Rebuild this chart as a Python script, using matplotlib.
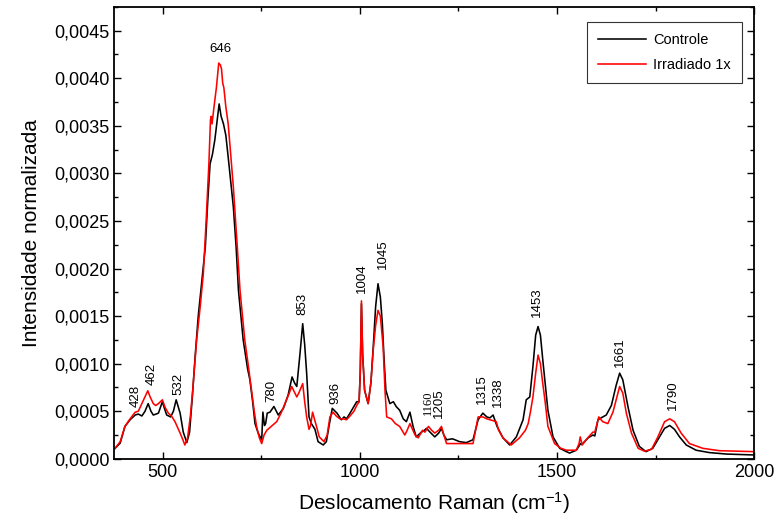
import numpy as np
import matplotlib
matplotlib.use("Agg")
import matplotlib.pyplot as plt
from matplotlib.ticker import FuncFormatter, MultipleLocator

plt.rcParams['font.family'] = ['Liberation Sans', 'DejaVu Sans']
plt.rcParams['mathtext.fontset'] = 'custom'
plt.rcParams['mathtext.rm'] = 'Liberation Sans'
plt.rcParams['mathtext.it'] = 'Liberation Sans:italic'

# Controle (black)
x_ctrl = [379, 392, 404, 417, 430, 438, 447, 455, 463, 470, 476, 483, 489, 499, 505,
          510, 520, 527, 534, 544, 552, 561, 568, 575, 582, 590, 600, 608, 614, 620,
          626, 632, 637, 643, 648, 654, 660, 666, 679, 686, 692, 704, 715, 721, 728,
          734, 742, 751, 754, 758, 761, 765, 772, 782, 793, 806, 818, 828, 834, 840,
          848, 855, 860, 865, 871, 877, 886, 894, 907, 915, 922, 930, 942, 953, 960,
          966, 975, 985, 992, 998, 1001, 1004, 1007, 1012, 1021, 1028, 1034, 1040, 1046, 1052,
          1057, 1062, 1066, 1076, 1085, 1092, 1101, 1110, 1118, 1127, 1135, 1143, 1156, 1164, 1169,
          1178, 1190, 1200, 1207, 1213, 1220, 1235, 1253, 1270, 1287, 1300, 1312, 1322, 1330, 1338,
          1348, 1363, 1380, 1397, 1414, 1422, 1431, 1439, 1446, 1452, 1458, 1464, 1470, 1477, 1490,
          1507, 1524, 1532, 1549, 1557, 1559, 1563, 1579, 1591, 1596, 1604, 1612, 1625, 1638, 1650,
          1659, 1667, 1680, 1693, 1709, 1726, 1743, 1760, 1773, 1786, 1798, 1811, 1828, 1853, 1887,
          1929, 1965, 2000]
y_ctrl = [0.00011, 0.000165, 0.00034, 0.00041, 0.00046, 0.00047, 0.00045, 0.0005, 0.00058, 0.0005,
          0.00046, 0.00047, 0.00048, 0.0006, 0.00052, 0.00046, 0.00044, 0.0005, 0.00062, 0.00048,
          0.00028, 0.00017, 0.00028, 0.00065, 0.00107, 0.0015, 0.0019, 0.00223, 0.0027, 0.0031,
          0.0032, 0.00335, 0.00352, 0.00373, 0.0036, 0.00352, 0.0034, 0.00317, 0.00265, 0.00223,
          0.00177, 0.00125, 0.00095, 0.00083, 0.0006, 0.00037, 0.00027, 0.0002, 0.00049, 0.00035,
          0.00037, 0.00048, 0.00049, 0.00055, 0.00046, 0.00053, 0.00067, 0.00086, 0.0008, 0.00076,
          0.0011, 0.00142, 0.0012, 0.0009, 0.00044, 0.00037, 0.00031, 0.00018, 0.000145, 0.00018,
          0.00035, 0.00053, 0.00048, 0.00041, 0.00044, 0.00042, 0.00048, 0.00055, 0.0006, 0.0006,
          0.0009, 0.00163, 0.0011, 0.00072, 0.00058, 0.0008, 0.00118, 0.0016, 0.00184, 0.0017,
          0.00142, 0.001, 0.00072, 0.00058, 0.0006, 0.00055, 0.00051, 0.00042, 0.00039, 0.00049,
          0.00034, 0.00023, 0.00028, 0.0003, 0.00032, 0.00028, 0.00023, 0.00027, 0.00032, 0.00025,
          0.0002, 0.00021, 0.00018, 0.00017, 0.0002, 0.00041, 0.00048, 0.00044, 0.00043, 0.00046,
          0.00034, 0.00022, 0.000145, 0.00023, 0.00041, 0.00062, 0.00065, 0.00097, 0.0013, 0.00139,
          0.0013, 0.00104, 0.0008, 0.00051, 0.00023, 0.00011, 0.000075, 0.00006, 0.00009, 0.00014,
          0.00016, 0.00015, 0.00022, 0.00025, 0.00024, 0.00041, 0.00043, 0.00046, 0.00056, 0.00077,
          0.0009, 0.00083, 0.00055, 0.0003, 0.00013, 0.000075, 0.00011, 0.00023, 0.00032, 0.00035,
          0.00031, 0.00023, 0.000145, 0.00009, 0.000065, 0.00005, 0.000045, 0.00004]

# Irradiado 1x (red)
x_irr = [379, 392, 404, 417, 430, 438, 447, 455, 462, 468, 476, 482, 489, 499, 506,
         514, 522, 531, 544, 551, 556, 563, 570, 576, 586, 595, 603, 610, 617, 621,
         623, 625, 630, 636, 642, 646, 649, 652, 655, 660, 666, 679, 689, 696, 708,
         717, 725, 732, 738, 745, 751, 757, 764, 775, 789, 800, 810, 820, 827, 834,
         840, 846, 855, 860, 865, 871, 875, 880, 888, 897, 909, 917, 924, 932, 940,
         949, 958, 966, 975, 985, 992, 998, 1001, 1004, 1007, 1012, 1021, 1028, 1034, 1040,
         1046, 1052, 1059, 1064, 1068, 1080, 1090, 1101, 1114, 1120, 1127, 1140, 1148, 1159, 1165,
         1174, 1182, 1190, 1200, 1207, 1213, 1220, 1240, 1260, 1287, 1300, 1312, 1322, 1330, 1346,
         1352, 1363, 1384, 1405, 1420, 1427, 1433, 1439, 1446, 1452, 1458, 1464, 1470, 1477, 1494,
         1510, 1524, 1532, 1549, 1556, 1559, 1564, 1578, 1591, 1596, 1606, 1616, 1629, 1642, 1652,
         1659, 1667, 1676, 1689, 1706, 1722, 1740, 1756, 1773, 1786, 1798, 1815, 1836, 1870, 1912,
         1955, 2000]
y_irr = [0.00011, 0.00018, 0.00034, 0.00042, 0.00049, 0.0005, 0.00058, 0.00065, 0.000715, 0.00065,
         0.00058, 0.00056, 0.00058, 0.00062, 0.00054, 0.00048, 0.00045, 0.00039, 0.00027, 0.0002,
         0.000145, 0.00022, 0.00045, 0.00072, 0.00125, 0.0016, 0.00195, 0.0025, 0.0031, 0.00356,
         0.0036, 0.00352, 0.0037, 0.0039, 0.00416, 0.00414, 0.0041, 0.00395, 0.0039, 0.0037,
         0.00352, 0.00286, 0.00223, 0.00177, 0.00125, 0.00098, 0.00072, 0.0005, 0.00034, 0.00022,
         0.00016, 0.00025, 0.0003, 0.00034, 0.00039, 0.00048, 0.00058, 0.00068, 0.00076, 0.0007,
         0.00065, 0.0007, 0.00079, 0.0006, 0.00044, 0.00031, 0.00035, 0.00049, 0.00037, 0.00023,
         0.00018, 0.00025, 0.00044, 0.00049, 0.00045, 0.00042, 0.00042, 0.00041, 0.00045, 0.0005,
         0.00056, 0.0006, 0.0009, 0.00166, 0.0011, 0.00072, 0.00058, 0.0008, 0.00115, 0.0014,
         0.00156, 0.0015, 0.00118, 0.0007, 0.00044, 0.00042, 0.00037, 0.00034, 0.00025, 0.0003,
         0.00037, 0.00025, 0.00022, 0.0003, 0.00028, 0.00034, 0.0003, 0.00027, 0.0003, 0.00034,
         0.00025, 0.00016, 0.00016, 0.00016, 0.00016, 0.00044, 0.00044, 0.00042, 0.00041, 0.00039,
         0.0003, 0.00022, 0.000145, 0.00022, 0.0003, 0.00037, 0.0005, 0.00065, 0.0009, 0.00109,
         0.001, 0.00079, 0.0006, 0.00034, 0.00016, 0.00011, 0.00009, 0.00009, 0.00009, 0.00016,
         0.00023, 0.000145, 0.00022, 0.00028, 0.00028, 0.00044, 0.00039, 0.00037, 0.00049, 0.00065,
         0.00076, 0.00069, 0.00048, 0.00027, 0.00011, 0.00008, 0.0001, 0.00023, 0.00039, 0.00042,
         0.00039, 0.00027, 0.00016, 0.00011, 0.000085, 0.00008, 0.000075]

# peak labels: (text, x, y)
peak_txt = ['428', '462', '532', '780', '853', '936', '1004', '1045', '1205', '1315', '1338', '1453', '1661', '1790']
peak_x = [431, 471, 539, 776, 854, 938, 1005, 1058, 1201, 1309, 1350, 1450, 1661, 1793]
peak_y = [0.000545, 0.000775, 0.00067, 0.000595, 0.00151, 0.00058, 0.00174, 0.0020, 0.000425,
          0.00058, 0.000545, 0.00149, 0.00097, 0.00051]

fig = plt.figure(figsize=(7.79, 5.31), dpi=100)
ax = fig.add_axes([0.1467, 0.136, 0.8213, 0.851])

ax.plot(x_ctrl, y_ctrl, color='black', lw=1.15, label='Controle')
ax.plot(x_irr, y_irr, color='#ff0000', lw=1.15, label='Irradiado 1x')

ax.set_xlim(377, 2000)
ax.set_ylim(0, 0.00475)

ax.xaxis.set_major_locator(MultipleLocator(500))
ax.xaxis.set_minor_locator(MultipleLocator(250))
ax.yaxis.set_major_locator(MultipleLocator(0.0005))
ax.yaxis.set_minor_locator(MultipleLocator(0.00025))
ax.yaxis.set_major_formatter(FuncFormatter(lambda v, p: ('%.4f' % v).replace('.', ',')))
ax.tick_params(which='both', direction='in', top=True, right=True, width=1.0, labelsize=13)
ax.tick_params(which='major', length=5)
ax.tick_params(which='minor', length=3)
for s in ax.spines.values():
    s.set_linewidth(1.3)

ax.set_xlabel('Deslocamento Raman (cm$^{-1}$)', fontsize=15, labelpad=7)
ax.set_ylabel('Intensidade normalizada', fontsize=15, labelpad=9)

for t, px, py in zip(peak_txt, peak_x, peak_y):
    ax.text(px, py, t, rotation=90, ha='center', va='bottom', fontsize=9.5)
ax.text(646, 0.00431, '646', ha='center', va='center', fontsize=9.5)
ax.text(1173, 0.00046, '1160', rotation=90, ha='center', va='bottom', fontsize=9,
        family='Liberation Serif')

leg = ax.legend(loc='upper right', bbox_to_anchor=(0.981, 0.967), borderaxespad=0,
                fancybox=False, edgecolor='black', fontsize=10.5, handlelength=3.3,
                labelspacing=0.75, borderpad=0.75, handletextpad=0.5)
leg.get_frame().set_linewidth(0.8)

fig.savefig('out.png', dpi=100)
